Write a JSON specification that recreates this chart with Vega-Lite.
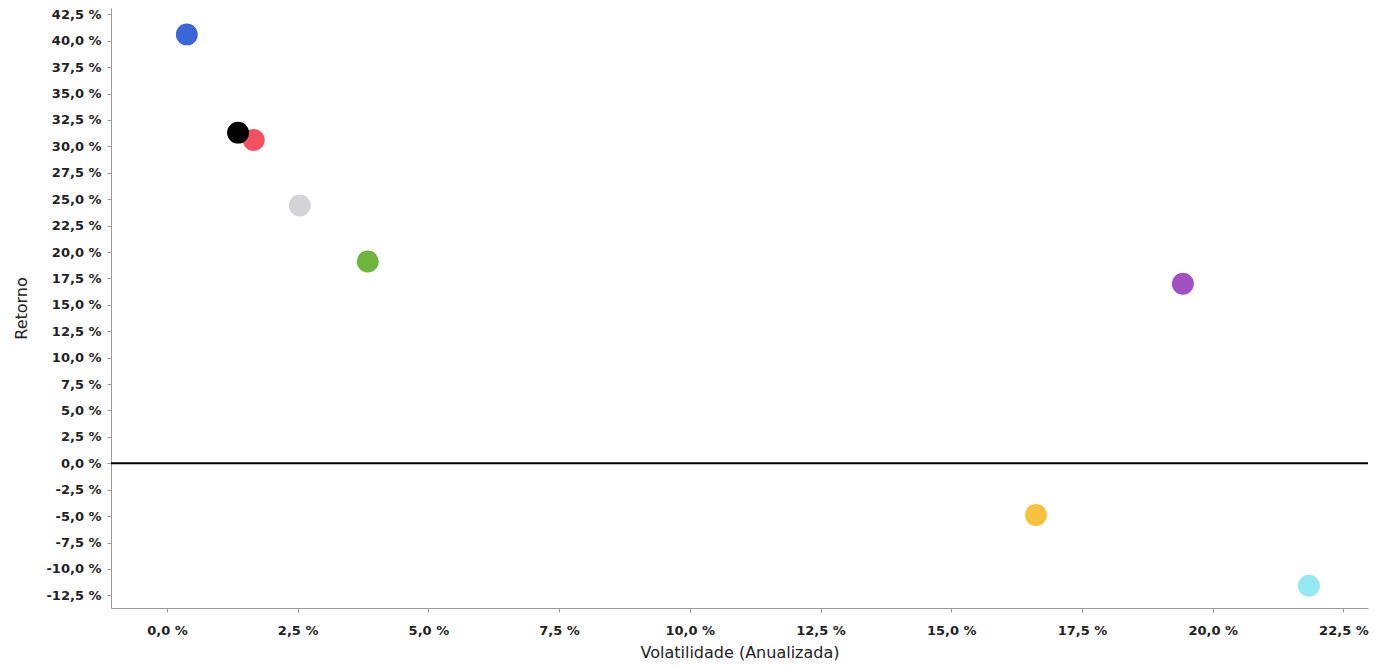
{
  "$schema": "https://vega.github.io/schema/vega-lite/v6.json",
  "width": 1257,
  "height": 600,
  "autosize": {"type": "none"},
  "padding": {"left": 111, "top": 8, "right": 18, "bottom": 59},
  "background": "white",
  "config": {
    "view": {"stroke": null},
    "font": "DejaVu Sans",
    "axis": {
      "grid": false,
      "domainColor": "#9a9a9a",
      "tickColor": "#9a9a9a",
      "tickSize": 4,
      "labelFont": "DejaVu Sans",
      "labelFontSize": 13,
      "labelFontWeight": "bold",
      "labelColor": "#222222",
      "titleFont": "DejaVu Sans",
      "titleFontSize": 16,
      "titleFontWeight": "normal",
      "titleColor": "#222222"
    }
  },
  "datasets": {
    "pts": [
      {"nome": "A", "vol": 0.38, "ret": 40.6, "cor": "#3b66d8"},
      {"nome": "C", "vol": 1.66, "ret": 30.6, "cor": "#f2525f"},
      {"nome": "B", "vol": 1.36, "ret": 31.3, "cor": "#000000"},
      {"nome": "D", "vol": 2.54, "ret": 24.4, "cor": "#d3d3d8"},
      {"nome": "E", "vol": 3.84, "ret": 19.1, "cor": "#6db53c"},
      {"nome": "F", "vol": 19.43, "ret": 17.0, "cor": "#a24fc2"},
      {"nome": "G", "vol": 16.62, "ret": -4.9, "cor": "#f6c13e"},
      {"nome": "H", "vol": 21.84, "ret": -11.6, "cor": "#94e8f2"}
    ]
  },
  "layer": [
    {
      "data": {"name": "pts"},
      "mark": {"type": "circle", "opacity": 1, "size": 480},
      "encoding": {
        "x": {
          "field": "vol",
          "type": "quantitative",
          "title": "Volatilidade (Anualizada)",
          "scale": {"domain": [-1.07, 22.97], "nice": false, "zero": false},
          "axis": {
            "values": [0, 2.5, 5, 7.5, 10, 12.5, 15, 17.5, 20, 22.5],
            "tickCount": 40,
            "labelOverlap": false,
            "labelExpr": "replace(replace(format(datum.value, '.1f'), '.', ','), '\u2212', '-') + ' %'",
            "labelPadding": 12,
            "titlePadding": 7
          }
        },
        "y": {
          "field": "ret",
          "type": "quantitative",
          "title": "Retorno",
          "scale": {"domain": [-13.7, 43.1], "nice": false, "zero": false},
          "axis": {
            "values": [-12.5, -10, -7.5, -5, -2.5, 0, 2.5, 5, 7.5, 10, 12.5, 15, 17.5, 20, 22.5, 25, 27.5, 30, 32.5, 35, 37.5, 40, 42.5],
            "tickCount": 40,
            "labelOverlap": false,
            "labelExpr": "replace(replace(format(datum.value, '.1f'), '.', ','), '\u2212', '-') + ' %'",
            "labelPadding": 6,
            "titlePadding": 16
          }
        },
        "color": {"field": "cor", "type": "nominal", "scale": null, "legend": null}
      }
    },
    {
      "data": {"values": [{"zero": 0}]},
      "mark": {"type": "rule", "color": "#000000", "strokeWidth": 2},
      "encoding": {
        "y": {"field": "zero", "type": "quantitative"}
      }
    }
  ]
}
